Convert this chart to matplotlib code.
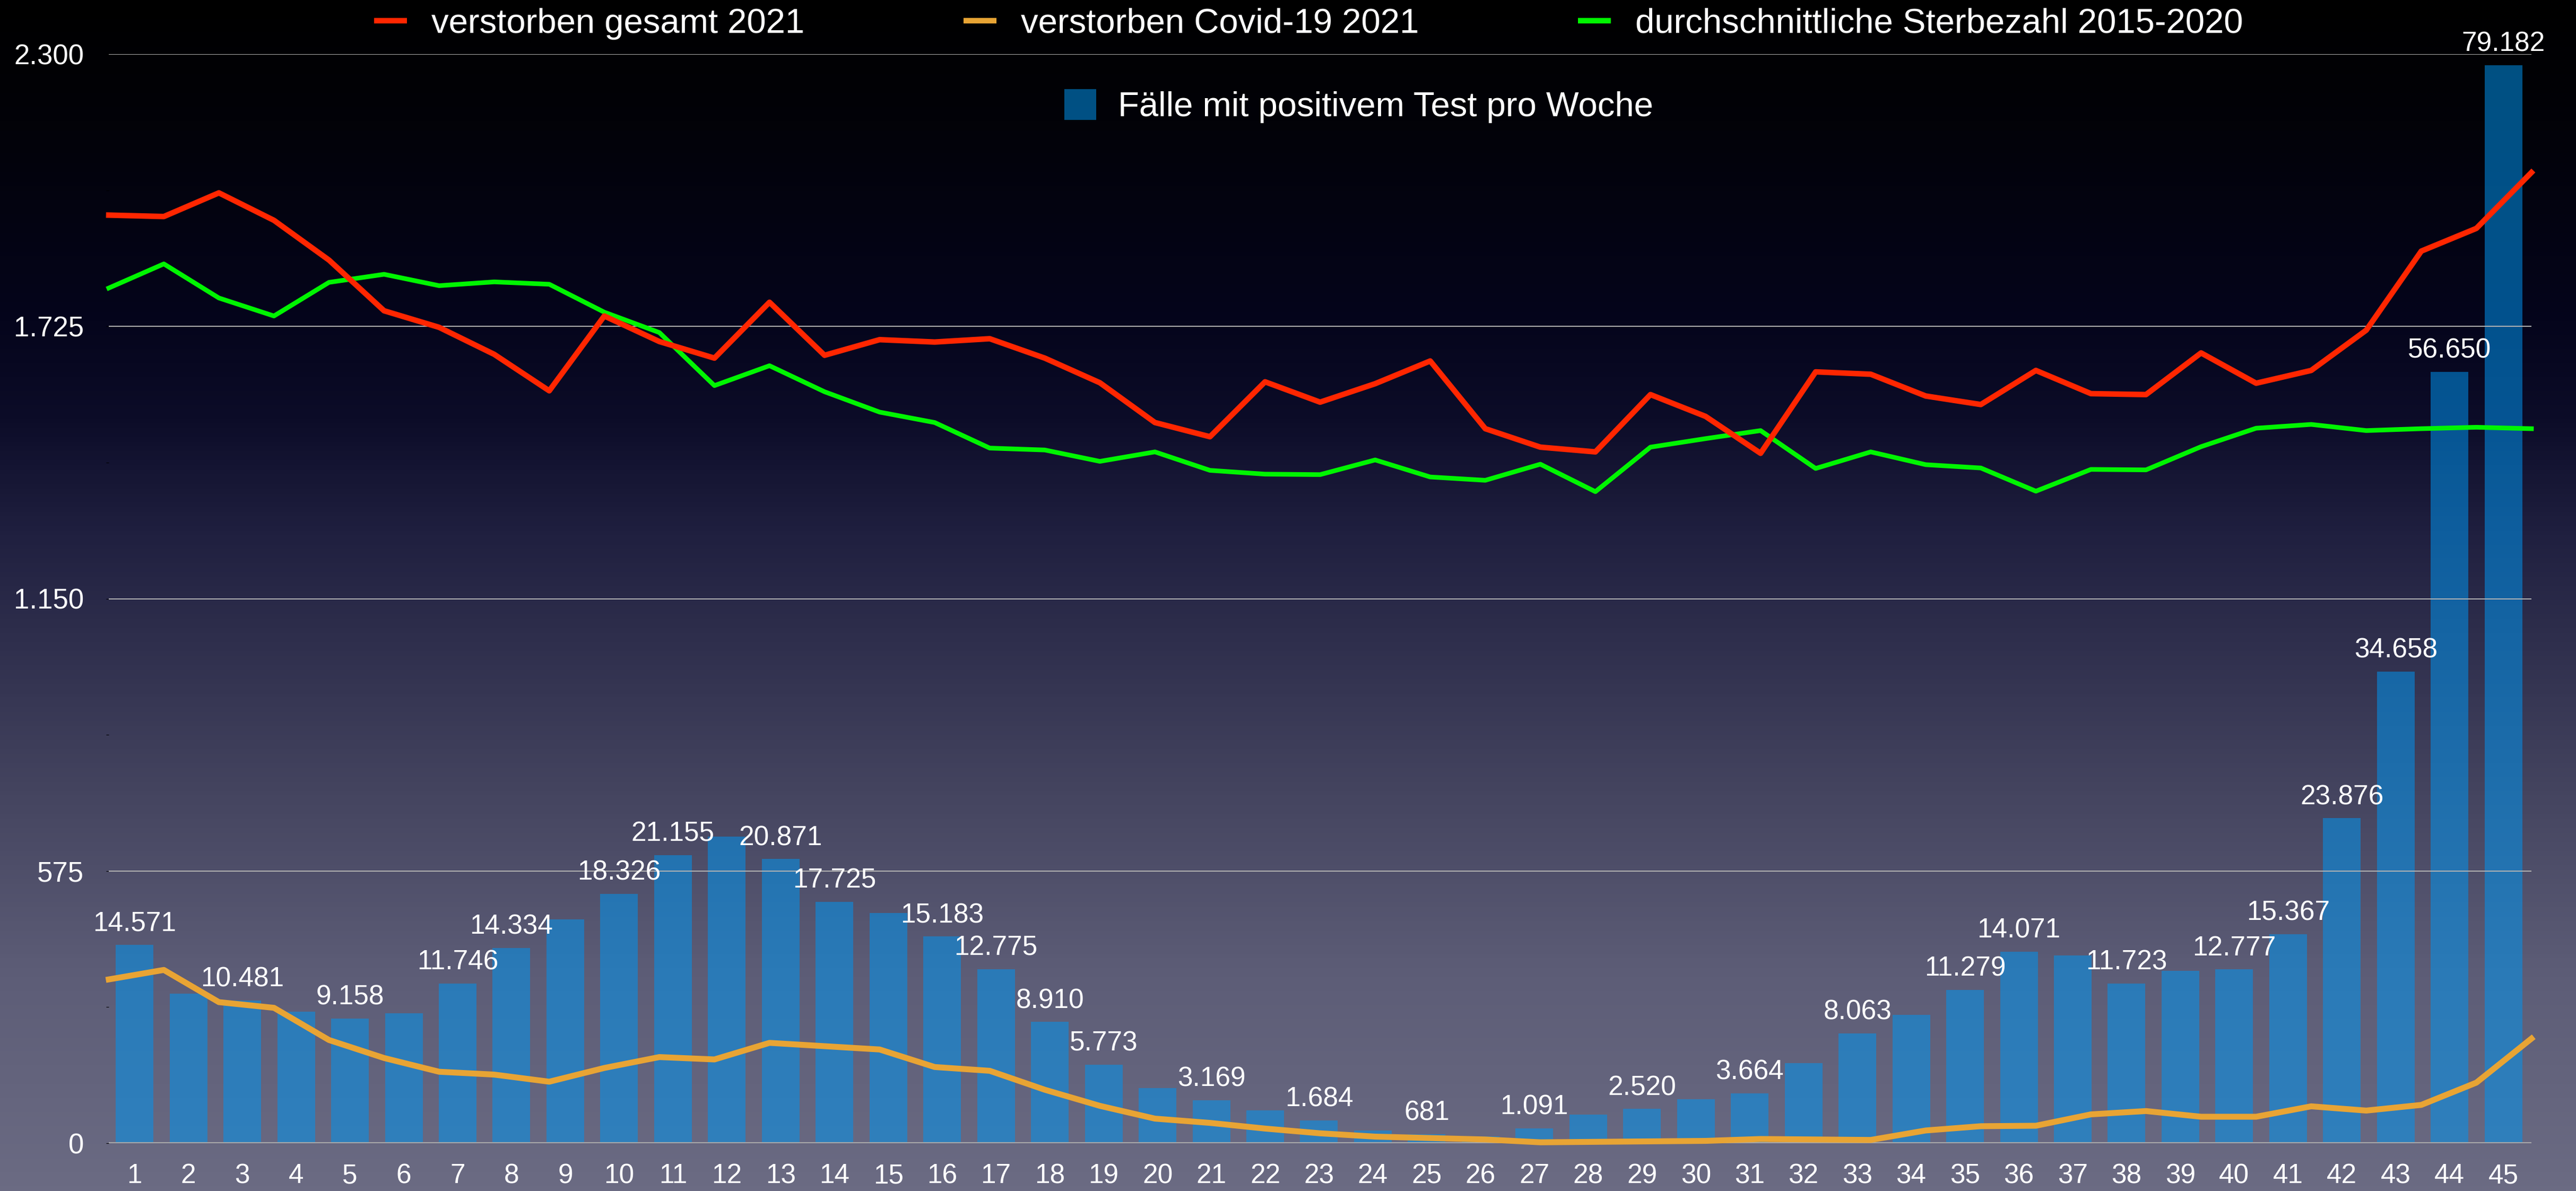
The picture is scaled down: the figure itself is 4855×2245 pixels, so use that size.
import numpy as np
import matplotlib
matplotlib.use("Agg")
import matplotlib.pyplot as plt
from matplotlib.colors import LinearSegmentedColormap
from matplotlib.lines import Line2D
from matplotlib.patches import Patch

# Kalenderwochen 2021
wochen = list(range(1, 46))

# Fälle mit positivem Test pro Woche (rechte, unsichtbare Skala 0-80.000)
faelle = [14571, 11000, 10481, 9680, 9158, 9550, 11746, 14334, 16440, 18326,
          21155, 22530, 20871, 17725, 16900, 15183, 12775, 8910, 5773, 4060,
          3169, 2420, 1684, 930, 681, 500, 1091, 2085, 2520, 3240,
          3664, 5900, 8063, 9440, 11279, 14071, 13800, 11723, 12680, 12777,
          15367, 23876, 34658, 56650, 79182]

# Balken, die eine Zahl tragen
beschriftet = [1, 3, 5, 7, 8, 10, 11, 13, 14, 16, 17, 18, 19, 21, 23, 25, 27,
               29, 31, 33, 35, 36, 38, 40, 41, 42, 43, 44, 45]

# Sterbefälle (linke Skala)
verstorben_gesamt = [1960, 1957, 2007, 1949, 1865, 1758, 1723, 1666, 1589, 1747,
                     1693, 1658, 1776, 1664, 1697, 1692, 1699, 1658, 1606, 1522,
                     1492, 1608, 1565, 1604, 1652, 1509, 1470, 1460, 1581, 1535,
                     1457, 1629, 1624, 1578, 1560, 1632, 1583, 1581, 1669, 1605,
                     1632, 1717, 1884, 1932, 2050]
verstorben_covid = [346, 366, 298, 286, 218, 180, 151, 145, 130, 159,
                    182, 177, 212, 205, 198, 161, 153, 113, 79, 52,
                    43, 31, 21, 14, 11, 8, 2, 3, 4, 5,
                    9, 8, 7, 27, 36, 37, 61, 68, 56, 56,
                    78, 69, 81, 128, 221]
durchschnitt = [1806, 1857, 1785, 1747, 1818, 1835, 1811, 1819, 1814, 1755,
                1712, 1600, 1642, 1587, 1544, 1522, 1468, 1464, 1440, 1460,
                1421, 1413, 1412, 1443, 1407, 1400, 1434, 1376, 1470, 1488,
                1505, 1425, 1460, 1433, 1426, 1377, 1423, 1422, 1471, 1510,
                1518, 1505, 1509, 1512, 1509]

y_ticks = [0, 575, 1150, 1725, 2300]


def punkt(z):
    return f"{z:,}".replace(",", ".")


plt.rcParams['font.family'] = ['Liberation Sans', 'DejaVu Sans']

fig = plt.figure(figsize=(48.55, 22.45), dpi=100)

# Hintergrundverlauf
bg = fig.add_axes([0, 0, 1, 1], zorder=-10)
verlauf = LinearSegmentedColormap.from_list('bg', [
    (0.0, '#000000'), (0.1, '#020208'), (0.27, '#05051c'), (0.35, '#0c0c28'),
    (0.45, '#202040'), (0.67, '#454560'), (0.82, '#5d5d77'), (1.0, '#6b6b83')])
bg.imshow(np.linspace(0, 1, 512).reshape(-1, 1), aspect='auto', cmap=verlauf,
          extent=[0, 1, 0, 1])
bg.axis('off')

W, H = 4855, 2245
ax = fig.add_axes([205 / W, 90 / H, (4771 - 205) / W, (2155 - 102) / H])
ax.set_facecolor('none')

# Balken
ax.bar(wochen, faelle, width=0.7, color='#0094ef', alpha=0.54, zorder=2)
ax.set_ylim(0, 80000)
ax.set_xlim(0.52, 45.52)
ax.set_xticks(wochen)
ax.tick_params(axis='x', length=0, pad=27, labelsize=37, labelcolor='white')
ax.tick_params(axis='y', left=False, labelleft=False)
for s in ax.spines.values():
    s.set_visible(False)

# Linien
ax2 = ax.twinx()
ax2.set_ylim(0, 2300)
ax2.yaxis.tick_left()
ax2.set_yticks(y_ticks)
ax2.set_yticklabels([punkt(t) for t in y_ticks])
ax2.tick_params(axis='y', length=0, pad=34, labelsize=38, labelcolor='white',
                left=True, right=False, labelleft=True, labelright=False)
for s in ax2.spines.values():
    s.set_visible(False)
for t in y_ticks[1:]:
    ax2.axhline(t, color='#b4b4b4', lw=1.4, zorder=1)
ax2.axhline(0, color='#a8a8a8', lw=3, zorder=1)

lx = np.linspace(*ax.get_xlim(), len(verstorben_gesamt))
ax2.plot(lx, durchschnitt, color='#00f500', lw=6.3, zorder=3, clip_on=False)
ax2.plot(lx, verstorben_covid, color='#e8a434', lw=8, zorder=3, clip_on=False)
ax2.plot(lx, verstorben_gesamt, color='#ff2600', lw=7.5, zorder=4, clip_on=False)

for w in beschriftet:
    ax2.annotate(punkt(faelle[w - 1]), xy=(w, faelle[w - 1]), xycoords=ax.transData,
                 xytext=(0, 11), textcoords='offset points', ha='center', va='bottom',
                 color='white', fontsize=37, annotation_clip=False, zorder=6)

# Legenden
linien = [Line2D([], [], color='#ff2600', lw=7.5, solid_capstyle='butt'),
          Line2D([], [], color='#e8a434', lw=7.5, solid_capstyle='butt'),
          Line2D([], [], color='#00f500', lw=7.5, solid_capstyle='butt')]
fig.legend(linien, ['verstorben gesamt 2021', 'verstorben Covid-19 2021',
                    'durchschnittliche Sterbezahl 2015-2020'],
           loc='center', bbox_to_anchor=(0.508, 0.980), ncol=3, frameon=False,
           fontsize=47, handlelength=0.95, handletextpad=0.7, columnspacing=4.6,
           labelcolor='white')
fig.legend([Patch(facecolor='#0094ef', alpha=0.54, edgecolor='none')],
           ['Fälle mit positivem Test pro Woche'],
           loc='center', bbox_to_anchor=(0.5275, 0.911), frameon=False,
           fontsize=47, handlelength=0.92, handleheight=1.0, handletextpad=0.63,
           labelcolor='white')

fig.savefig('out.png', dpi=100)
